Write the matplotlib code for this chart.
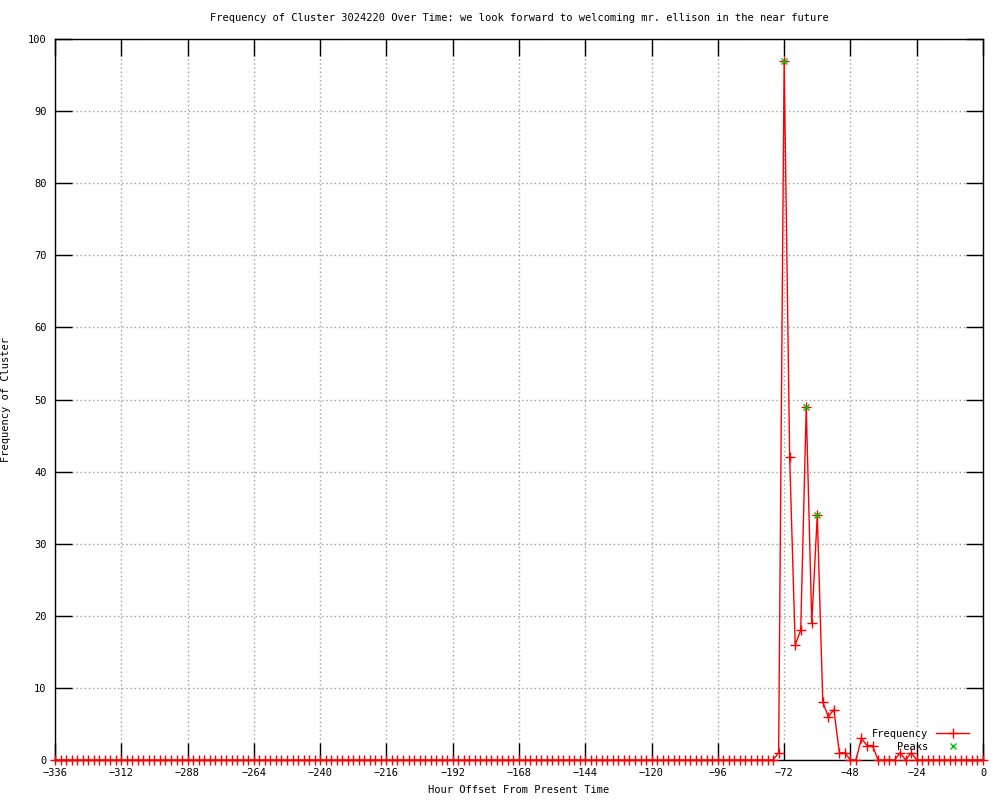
import numpy as np
import matplotlib
matplotlib.use('Agg')
import matplotlib.pyplot as plt

plt.rcParams['font.family'] = ['DejaVu Sans Mono']
plt.rcParams['font.size'] = 7.5

# Hourly offsets (every 2 hours) and cluster frequency
hours = np.arange(-336, 1, 2)
active_hours = [-74, -72, -70, -68, -66, -64, -62, -60, -58, -56, -54, -52, -50, -44, -42, -40, -30, -26]
active_counts = [1, 97, 42, 16, 18, 49, 19, 34, 8, 6, 7, 1, 1, 3, 2, 2, 1, 1]

counts = np.zeros(len(hours))
for h, c in zip(active_hours, active_counts):
    counts[hours == h] = c

# Detected peaks
peak_hours = [-72, -64, -60]
peak_counts = [97, 49, 34]

fig = plt.figure(figsize=(10, 8), dpi=100)
ax = fig.add_axes([0.055, 0.05, 0.928, 0.90125])

ax.plot(hours, counts, color='red', linewidth=1, marker='+', markersize=7,
        markeredgewidth=1, label='Frequency', clip_on=False, zorder=3)
ax.plot(peak_hours, peak_counts, linestyle='none', color='#00c000', marker='x',
        markersize=5, markeredgewidth=1, label='Peaks', zorder=4)

ax.set_xlim(-336, 0)
ax.set_ylim(0, 100)
ax.set_xticks(np.arange(-336, 1, 24))
ax.set_yticks(np.arange(0, 101, 10))
ax.tick_params(direction='in', length=12, width=1, top=True, right=True,
               labeltop=False, labelright=False, pad=6)
ax.grid(True, color='#a0a0a0', linestyle=(0, (1, 2)), linewidth=1)
for s in ax.spines.values():
    s.set_linewidth(1)

ax.set_title('Frequency of Cluster 3024220 Over Time: we look forward to welcoming mr. ellison in the near future',
             fontsize=7.5, pad=13)
ax.set_xlabel('Hour Offset From Present Time', labelpad=5)
ax.set_ylabel('Frequency of Cluster', labelpad=12)

ax.legend(loc='lower right', bbox_to_anchor=(0.9925, 0.001), frameon=False,
          markerfirst=False, handlelength=3.1, labelspacing=0.3, handletextpad=0.8,
          borderpad=0.2)

fig.savefig('out.png', dpi=100)
